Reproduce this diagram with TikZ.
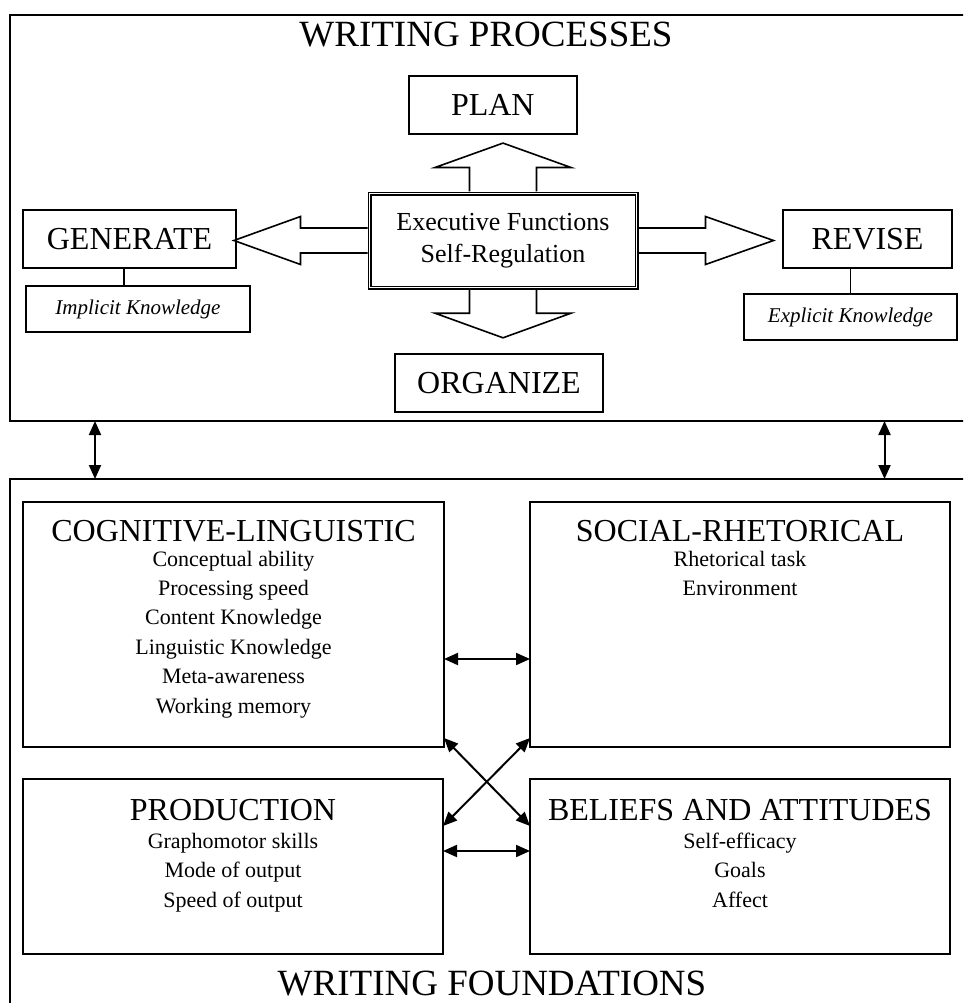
\documentclass[tikz,border=0pt]{standalone}
\usepackage{fontspec}
\setmainfont{Liberation Serif}
\usetikzlibrary{arrows.meta}

\newcommand\fsz[2]{\fontsize{#1}{#2}\selectfont}

\begin{document}
\begin{tikzpicture}[x=1pt,y=-1pt,
  frame/.style={draw, line width=2.4pt, inner sep=0pt, outer sep=0pt, anchor=north west},
  box/.style={draw, line width=1.9pt, inner sep=0pt, outer sep=0pt, font=\fsz{32}{38}},
  kbox/.style={draw, line width=1.9pt, inner sep=0pt, outer sep=0pt, font=\fsz{21}{25}\itshape},
  panel/.style={draw, line width=1.9pt, inner sep=0pt, outer sep=0pt, anchor=north west},
  bigtitle/.style={font=\fsz{37}{44}, inner sep=0pt, anchor=base},
  ptitle/.style={font=\fsz{32}{38}, inner sep=0pt, anchor=base},
  ptext/.style={font=\fsz{22}{27}, inner sep=0pt, anchor=base},
  fat/.style={draw, line width=1.6pt, line join=miter},
  link/.style={line width=1.9pt},
  both/.style={line width=2pt, >={Triangle[length=14pt,width=12pt]}, <->},
]
\useasboundingbox (0,0) rectangle (963,1003);
\clip (0,0) rectangle (963,1003);

% outer frames
\node[frame, minimum width=980pt, minimum height=406pt] (proc) at (10,15) {};
\node[frame, minimum width=980pt, minimum height=560pt] (found) at (10,479) {};

\node[bigtitle] (proctitle) at (486,47) {WRITING PROCESSES};
\node[bigtitle] (foundtitle) at (492,995) {WRITING FOUNDATIONS};

% writing processes
\node[draw, double, double distance=1.6pt, line width=1.2pt, outer sep=2pt,
      minimum width=267pt, minimum height=94pt, inner sep=0pt, align=center,
      font=\fsz{26}{31.7}] (ef) at (503,240.5) {Executive Functions\\Self-Regulation};

\node[box, minimum width=168.4pt, minimum height=58.6pt] (plan) at (492.8,105) {PLAN};
\node[box, minimum width=213pt, minimum height=58pt] (gen) at (129.5,239) {GENERATE};
\node[box, minimum width=169pt, minimum height=58pt] (rev) at (867.5,239) {REVISE};
\node[box, minimum width=208pt, minimum height=58pt] (org) at (499,383) {ORGANIZE};
\node[kbox, minimum width=224pt, minimum height=46pt] (imp) at (138,309) {Implicit Knowledge};
\node[kbox, minimum width=213pt, minimum height=46pt] (exp) at (850.5,317) {Explicit Knowledge};

% block arrows leaving the executive box
\draw[fat] ([xshift=-33.5pt]ef.north) -- ++(0,-24) -- ++(-34.5,0) -- ++(68,-24.4)
  -- ++(68,24.4) -- ++(-34.5,0) -- ++(0,24);
\draw[fat] ([xshift=-33.5pt]ef.south) -- ++(0,23.7) -- ++(-34.5,0) -- ++(68,24.6)
  -- ++(68,-24.6) -- ++(-34.5,0) -- ++(0,-23.7);
\draw[fat] ([yshift=12.5pt]ef.west) -- ++(-67,0) -- ++(0,-11.5) -- ++(-66.6,24)
  -- ++(66.6,24) -- ++(0,-11.5) -- ++(67,0);
\draw[fat] ([yshift=12.5pt]ef.east) -- ++(67,0) -- ++(0,-11.5) -- ++(68,24)
  -- ++(-68,24) -- ++(0,-11.5) -- ++(-67,0);

% knowledge links
\coordinate (genfoot) at ([xshift=-5.5pt]gen.south);
\draw[link] (genfoot) -- (genfoot |- imp.north);
\draw[link] (rev.south -| exp.north) -- (exp.north);

% links between the two levels
\coordinate (lx) at (95,0);
\coordinate (rx) at (884.5,0);
\draw[both] (proc.south -| lx) -- (found.north -| lx);
\draw[both] (proc.south -| rx) -- (found.north -| rx);

% writing foundations
\node[panel, minimum width=421pt, minimum height=245pt] (cl) at (23,502) {};
\node[panel, minimum width=420pt, minimum height=245pt] (sr) at (530,502) {};
\node[panel, minimum width=420pt, minimum height=175pt] (prod) at (23,779) {};
\node[panel, minimum width=420pt, minimum height=175pt] (bel) at (530,779) {};

\node[ptitle] (cl-t) at (233.5,541) {COGNITIVE-LINGUISTIC};
\foreach \t [count=\i] in {Conceptual ability,Processing speed,Content Knowledge,
  Linguistic Knowledge,Meta-awareness,Working memory}
  \node[ptext] (cl-\i) at (233.5,{536.6+29.4*\i}) {\t};

\node[ptitle] (sr-t) at (740,541) {SOCIAL-RHETORICAL};
\foreach \t [count=\i] in {Rhetorical task,Environment}
  \node[ptext] (sr-\i) at (740,{536.6+29.4*\i}) {\t};

\node[ptitle] (prod-t) at (233,820) {PRODUCTION};
\foreach \t [count=\i] in {Graphomotor skills,Mode of output,Speed of output}
  \node[ptext] (prod-\i) at (233,{819+29.4*\i}) {\t};

\node[ptitle] (bel-t) at (740,820) {BELIEFS AND ATTITUDES};
\foreach \t [count=\i] in {Self-efficacy,Goals,Affect}
  \node[ptext] (bel-\i) at (740,{819+29.4*\i}) {\t};

\draw[both] ([yshift=-34.5pt]cl.east) -- ([yshift=-34.5pt]sr.west);
\draw[both] ([yshift=15.5pt]prod.east) -- ([yshift=15.5pt]bel.west);
\draw[both] ([yshift=9pt]cl.south east) -- ([yshift=-47pt]bel.north west);
\draw[both] ([yshift=9pt]sr.south west) -- ([yshift=-47pt]prod.north east);
\end{tikzpicture}
\end{document}
